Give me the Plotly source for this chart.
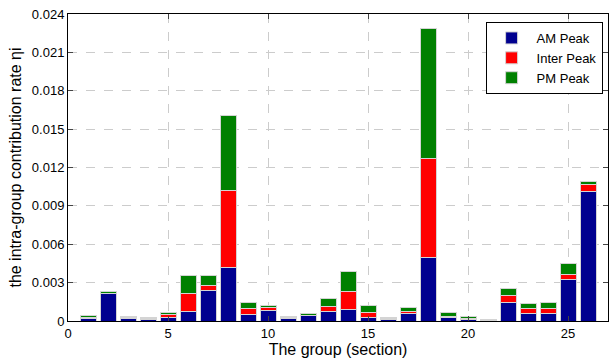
import plotly.graph_objects as go

groups = list(range(1, 27))
am_peak = [0.00018, 0.00215, 0.00020, 0.00010, 0.00024, 0.00078, 0.00235, 0.00418, 0.00047, 0.00086,
           0.00016, 0.00040, 0.00078, 0.00089, 0.00026, 0.00010, 0.00057, 0.00496, 0.00030, 0.00013,
           0.00002, 0.00141, 0.00057, 0.00057, 0.00324, 0.01010]
inter_peak = [0.00008, 0.00002, 0.00006, 0.00011, 0.00026, 0.00136, 0.00040, 0.00602, 0.00047, 0.00018,
              0.00008, 0.00004, 0.00032, 0.00141, 0.00044, 0.00008, 0.00016, 0.00775, 0.00003, 0.00003,
              0.00004, 0.00055, 0.00037, 0.00037, 0.00036, 0.00058]
pm_peak = [0.00019, 0.00010, 0.00013, 0.00009, 0.00018, 0.00141, 0.00078, 0.00588, 0.00050, 0.00016,
           0.00015, 0.00013, 0.00063, 0.00157, 0.00048, 0.00013, 0.00029, 0.01019, 0.00035, 0.00023,
           0.00002, 0.00055, 0.00039, 0.00047, 0.00087, 0.00022]

x_ticks = [0, 5, 10, 15, 20, 25]
y_ticks = [0, 0.003, 0.006, 0.009, 0.012, 0.015, 0.018, 0.021, 0.024]
y_tick_labels = ["0", "0.003", "0.006", "0.009", "0.012", "0.015", "0.018", "0.021", "0.024"]

series = [("AM Peak", am_peak, "#00008F"),
          ("Inter Peak", inter_peak, "#FF0000"),
          ("PM Peak", pm_peak, "#008000")]

fig = go.Figure()
for name, vals, color in series:
    fig.add_trace(go.Bar(x=groups, y=vals, name=name,
                         marker=dict(color=color, line=dict(color="#d4d4d4", width=1))))

font = "Liberation Sans, Arial, sans-serif"
fig.update_layout(
    barmode="stack", bargap=0.2,
    width=609, height=361,
    margin=dict(l=68, r=1, t=14, b=40, autoexpand=False),
    paper_bgcolor="white", plot_bgcolor="white",
    font=dict(family=font, size=13, color="black"),
    legend=dict(x=0.99, y=0.974, xanchor="right", yanchor="top",
                bgcolor="white", bordercolor="black", borderwidth=1,
                font=dict(size=13), traceorder="normal", tracegroupgap=0,
                itemwidth=40),
)
fig.update_xaxes(range=[0, 27], tickvals=x_ticks, ticks="inside", ticklen=5,
                 showline=True, linecolor="black", linewidth=1, mirror="allticks",
                 showgrid=True, gridcolor="#cccccc", griddash="dash", zeroline=False,
                 title=dict(text="The group (section)", standoff=2))
fig.update_yaxes(range=[0, 0.024], tickvals=y_ticks, ticktext=y_tick_labels,
                 ticks="inside", ticklen=5,
                 showline=True, linecolor="black", linewidth=1, mirror="allticks",
                 showgrid=True, gridcolor="#cccccc", griddash="dash", zeroline=False,
                 title=dict(text="the intra-group contribution rate ηi", standoff=6))

fig.write_html("out.html", config={"displayModeBar": False},
               post_script="document.body.style.margin='0';document.body.style.overflow='hidden';")
